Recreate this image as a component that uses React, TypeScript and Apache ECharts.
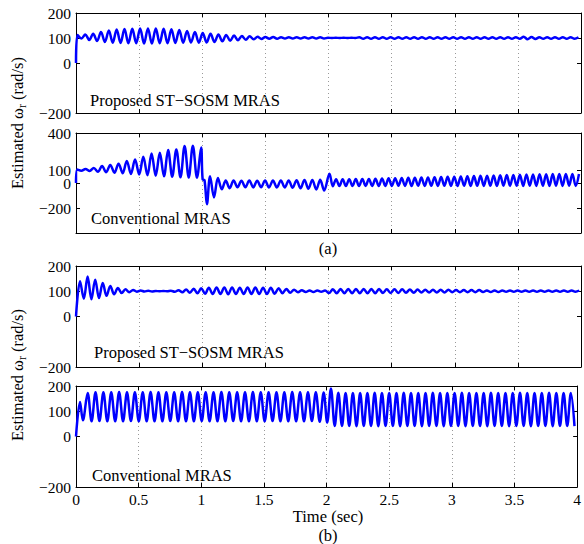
import React, { useEffect, useRef } from "react";
import * as echarts from "echarts";

// ---------- tick values ----------
const X_MIN = 0;
const X_MAX = 4;
const X_STEP = 0.5;
const Y_TICKS_PROPOSED = [-200, 0, 100, 200];
const Y_TICKS_CONV_A = [-200, 0, 100, 400];
const Y_TICKS_CONV_B = [-200, 0, 100, 200];

// ---------- (a) Proposed ST-SOSM MRAS : extrema ----------
const propA_startT = [0];
const propA_startV = [0];
const propA_t0 = 0.012;
const propA_dt = 0.031;
const propA_vals = [
  112, 98, 114, 92, 117, 88, 124, 84, 130, 81, 134, 80, 136, 79, 137, 79,
  138, 78, 138, 78, 138, 79, 137, 79, 135, 80, 132, 81, 128, 82, 124, 81,
  120, 82, 117, 84, 114, 87, 112, 89, 110, 91, 108, 93, 107, 95, 105, 96,
  104, 97, 104, 97, 103, 98, 103, 98, 103, 98, 103, 98, 103, 98, 103, 98,
  101, 100, 101, 100, 101, 100, 101, 100,
  103, 97, 103, 97, 103, 97, 103, 97, 103, 97, 103, 97, 103, 97, 103, 97,
  103, 97, 103, 97, 103, 97, 103, 97, 103, 97, 103, 97, 103, 97, 103, 97,
  103, 97, 103, 97, 103, 97, 103, 97, 103, 97, 105, 95, 104, 96,
  103, 97, 103, 97, 103, 97, 103, 97, 103, 97, 103,
];

// ---------- (a) Conventional MRAS ----------
const convA_startT = [0];
const convA_startV = [0];
const convA_t0 = 0.01;
const convA_dt = 0.0327;
const convA_vals1 = [
  108, 98, 112, 96, 120, 90, 136, 86, 145, 82, 155, 78, 177, 72, 188, 68,
  210, 62, 236, 58, 242, 54, 264, 50, 269, 46, 296, 44, 299, 42, 285,
];
const convA_transT = [1.003, 1.018, 1.037, 1.062, 1.093, 1.124, 1.155, 1.186, 1.217];
const convA_transV = [30, 22, -170, 55, -115, 40, -50, 20, -42];
const convA_t1 = 1.248;
const convA_dt1 = 0.0312;
const convA_vals2 = [
  20, -34, 19, -34, 20, -35, 19, -34, 20, -35, 20, -35, 21, -36, 21, -38,
  22, -42, 24, -46, 25, -52, 26, -60,
];
const convA_jumpT = [2.008];
const convA_jumpV = [75];
const convA_t2 = 2.034;
const convA_dt2 = 0.026;
const convA_vals3 = [
  -25, 30, -24, 31, -24, 30, -23, 32, -24, 33, -23, 33, -23, 34, -24, 36, -23, 38, -23, 39,
  -22, 40, -23, 42, -23, 42, -22, 44, -23, 45, -22, 47, -23, 48, -22, 50, -23, 51, -23, 53,
  -22, 55, -23, 56, -22, 58, -23, 59, -22, 61, -23, 62, -22, 64, -23, 65, -22, 67, -23, 68,
  -22, 69, -23, 70, -22, 71, -23, 72, -22, 72, -23, 73, -22, 73, -23, 72,
];

// ---------- (b) Proposed ST-SOSM MRAS ----------
const propB_startT = [0];
const propB_startV = [0];
const propB_t0 = 0.032;
const propB_dt = 0.03;
const propB_vals1 = [
  140, 70, 158, 68, 146, 73, 133, 82, 121, 88, 113, 93, 108, 96, 105, 98,
  103, 99, 102, 99, 101, 100, 101, 100, 102, 98, 104, 96, 107, 94, 110, 92, 112, 90,
];
const propB_t1 = 1.052;
const propB_dt1 = 0.0307;
const propB_vals2 = [
  114, 89, 115, 89, 115, 88, 115, 89, 114, 89, 115, 89, 115, 89, 114, 89, 114, 90,
  112, 92, 109, 94, 106, 96, 104, 97, 103, 97, 103, 98, 103,
];
const propB_t2 = 2.004;
const propB_dt2 = 0.0305;
const propB_vals3 = [
  93, 108, 92, 109, 92, 109, 92, 109, 92, 109, 92, 109, 92, 109, 93, 108, 93, 108, 93, 108, 94, 107, 94, 107,
  95, 106, 95, 106, 95, 106, 95, 106, 96, 105, 96, 105, 96, 105, 96, 105,
  97, 103, 97, 103, 97, 103, 98, 103, 98, 103, 98, 103, 98, 103, 98, 103, 98, 103, 98, 103, 98, 103, 98, 103, 98, 103,
];

// ---------- (b) Conventional MRAS ----------
const convB_startT = [0, 0.032, 0.055];
const convB_startV = [0, 137, 64];
const convB_t0 = 0.093;
const convB_dt = 0.0314;
const convB_vals1 = [
  172, 60, 175, 61, 175, 60, 175, 60, 176, 60, 175, 61, 175, 60, 175, 60, 176, 60, 175, 60,
  175, 61, 175, 60, 176, 60, 175, 60, 175, 61, 175, 60, 175, 60, 176, 60, 175, 61, 175, 60,
  175, 60, 176, 60, 175, 60, 175, 61, 175, 60, 175, 60, 176, 60, 175, 60, 175, 61, 175, 58,
];
const convB_transT = [1.977, 2.005, 2.035, 2.065];
const convB_transV = [174, 55, 190, 42];
const convB_t1 = 2.094;
const convB_dt1 = 0.029;
const convB_vals2 = [
  173, 42, 172, 42, 172, 41, 172, 42, 172, 42, 173, 41, 172, 42, 172, 42, 172, 41, 173, 42,
  172, 42, 172, 41, 172, 42, 173, 42, 172, 41, 172, 42, 172, 42, 173, 41, 172, 42, 172, 42,
  172, 41, 173, 42, 172, 42, 172, 41, 172, 42, 173, 42, 172, 41, 172, 42, 172, 42, 173, 41,
  172, 42, 172, 42, 172, 41,
];

// ---------- helpers ----------
function seg(t0: number, dt: number, vals: number[]): number[][] {
  return vals.map((v, i) => [t0 + i * dt, v]);
}
function pts(ts: number[], vs: number[]): number[][] {
  return ts.map((t, i) => [t, vs[i]]);
}

const dataPropA = [...pts(propA_startT, propA_startV), ...seg(propA_t0, propA_dt, propA_vals)];
const dataConvA = [
  ...pts(convA_startT, convA_startV),
  ...seg(convA_t0, convA_dt, convA_vals1),
  ...pts(convA_transT, convA_transV),
  ...seg(convA_t1, convA_dt1, convA_vals2),
  ...pts(convA_jumpT, convA_jumpV),
  ...seg(convA_t2, convA_dt2, convA_vals3),
];
const dataPropB = [
  ...pts(propB_startT, propB_startV),
  ...seg(propB_t0, propB_dt, propB_vals1),
  ...seg(propB_t1, propB_dt1, propB_vals2),
  ...seg(propB_t2, propB_dt2, propB_vals3),
];
const dataConvB = [
  ...pts(convB_startT, convB_startV),
  ...seg(convB_t0, convB_dt, convB_vals1),
  ...pts(convB_transT, convB_transV),
  ...seg(convB_t1, convB_dt1, convB_vals2),
];

const FONT = "'Liberation Serif', 'Times New Roman', serif";
const TICK_FS = 15.5;
const TEXT_FS = 16.5;

const fmtY = (v: number) => (v < 0 ? "\u2212" + String(-v) : String(v));

export default function App() {
  const ref = useRef<HTMLDivElement>(null);

  useEffect(() => {
    if (!ref.current) return;
    const chart = echarts.init(ref.current, undefined, { renderer: "svg" });

    const grids = [
      { left: 76, top: 13, width: 505, height: 100 },
      { left: 76, top: 133, width: 505, height: 100 },
      { left: 76, top: 266, width: 505, height: 101 },
      { left: 76, top: 386, width: 505, height: 101 },
    ];
    const yRanges = [
      { min: -200, max: 200, ticks: Y_TICKS_PROPOSED },
      { min: -400, max: 400, ticks: Y_TICKS_CONV_A },
      { min: -200, max: 200, ticks: Y_TICKS_PROPOSED },
      { min: -200, max: 200, ticks: Y_TICKS_CONV_B },
    ];
    const datas = [dataPropA, dataConvA, dataPropB, dataConvB];

    const xAxes: any[] = [];
    const yAxes: any[] = [];
    grids.forEach((_, g) => {
      const base = {
        type: "value",
        gridIndex: g,
        min: X_MIN,
        max: X_MAX,
        interval: X_STEP,
        axisLine: { show: true, onZero: false, lineStyle: { color: "#000", width: 1 } },
        axisTick: { show: true, inside: true, length: 4, lineStyle: { color: "#000" } },
      };
      xAxes.push({
        ...base,
        position: "bottom",
        axisLabel: {
          show: g === 3,
          margin: 5,
          color: "#000",
          fontFamily: FONT,
          fontSize: TICK_FS,
          lineHeight: 14,
          formatter: (v: number) => String(v),
        },
        splitLine: { show: true, lineStyle: { type: [1, 3], color: "#999", width: 1 } },
      });
      xAxes.push({
        ...base,
        position: "top",
        axisLabel: { show: false },
        splitLine: { show: false },
      });
      const yr = yRanges[g];
      const ybase = {
        type: "value",
        gridIndex: g,
        min: yr.min,
        max: yr.max,
        axisLine: { show: true, onZero: false, lineStyle: { color: "#000", width: 1 } },
        axisTick: {
          show: true,
          inside: true,
          length: 4,
          customValues: yr.ticks,
          lineStyle: { color: "#000" },
        },
        splitLine: { show: false },
      };
      yAxes.push({
        ...ybase,
        position: "left",
        axisLabel: {
          show: true,
          customValues: yr.ticks,
          margin: 5,
          color: "#000",
          fontFamily: FONT,
          fontSize: TICK_FS,
          lineHeight: 11,
          formatter: fmtY,
        },
      });
      yAxes.push({
        ...ybase,
        position: "right",
        axisLabel: { show: false },
      });
    });

    const series = datas.map((d, g) => ({
      type: "line",
      xAxisIndex: 2 * g,
      yAxisIndex: 2 * g,
      data: d,
      showSymbol: false,
      symbol: "none",
      smooth: 0.35,
      clip: true,
      silent: true,
      lineStyle: { color: "#0000ff", width: 2.5 },
      itemStyle: { color: "#0000ff" },
    }));

    const txt = (x: number, y: number, text: string, align = "left") => ({
      type: "text",
      x,
      y,
      silent: true,
      style: {
        text,
        fontFamily: FONT,
        fontSize: TEXT_FS,
        lineHeight: 14,
        fill: "#000",
        align,
        verticalAlign: "middle",
        textAlign: align,
        textVerticalAlign: "middle",
      },
    });

    const yTitle = (y: number) => ({
      type: "text",
      x: 17,
      y,
      rotation: Math.PI / 2,
      silent: true,
      style: {
        text: "{a|Estimated \u03c9}{s|r}{a| (rad/s)}",
        fill: "#000",
        align: "center",
        verticalAlign: "middle",
        textAlign: "center",
        textVerticalAlign: "middle",
        rich: {
          a: { fontFamily: FONT, fontSize: TEXT_FS, lineHeight: 22, fill: "#000" },
          s: {
            fontFamily: FONT,
            fontSize: 11.5,
            lineHeight: 12,
            verticalAlign: "bottom",
            fill: "#000",
          },
        },
      },
    });

    chart.setOption({
      animation: false,
      backgroundColor: "#fff",
      textStyle: { fontFamily: FONT },
      grid: grids.map((g) => ({ ...g, containLabel: false, show: false })),
      xAxis: xAxes,
      yAxis: yAxes,
      series,
      graphic: [
        txt(90, 100, "Proposed ST\u2212SOSM MRAS"),
        txt(91, 218, "Conventional MRAS"),
        txt(94, 352, "Proposed ST\u2212SOSM MRAS"),
        txt(92, 475, "Conventional MRAS"),
        txt(328, 248, "(a)", "center"),
        txt(328, 516, "Time (sec)", "center"),
        txt(328, 535, "(b)", "center"),
        yTitle(123),
        yTitle(375),
      ],
    });

    return () => chart.dispose();
  }, []);

  return (
    <div
      ref={ref}
      style={{
        position: "absolute",
        left: 0,
        top: 0,
        width: 584,
        height: 544,
        background: "#fff",
      }}
    />
  );
}
